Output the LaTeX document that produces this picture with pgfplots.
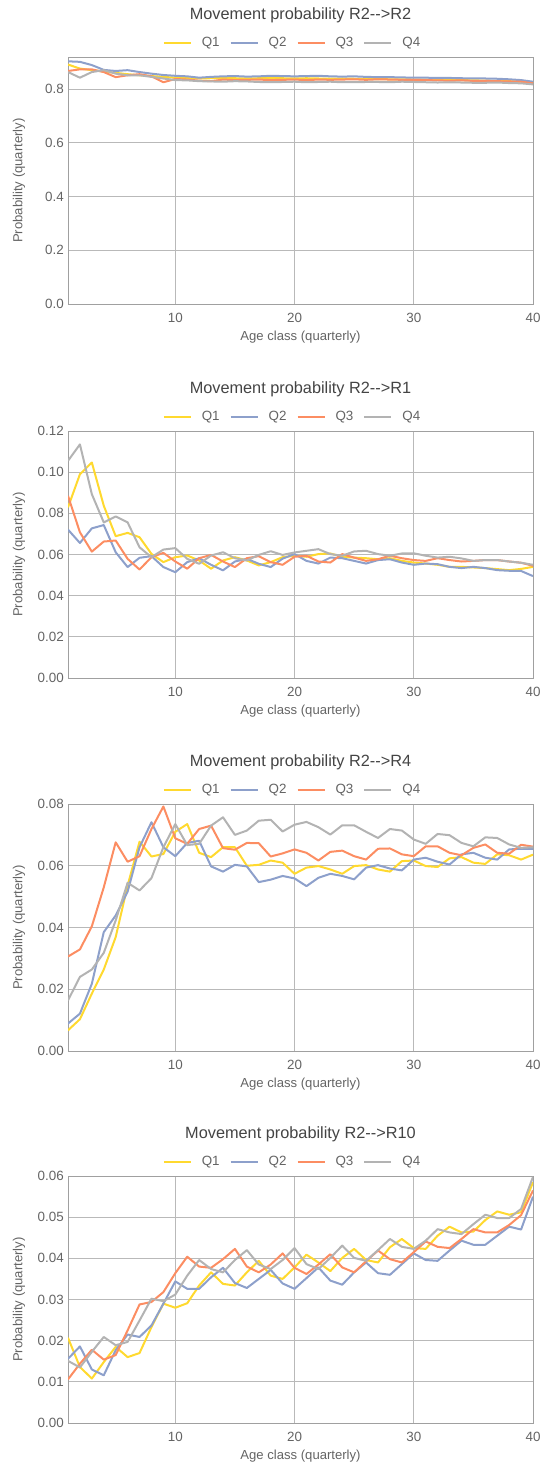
\documentclass[border=0pt]{standalone}
\usepackage{pgfplots}
\pgfplotsset{compat=1.18}
\usepackage{pgfplotstable}
\usepackage{fontspec}
\setmainfont{Liberation Sans}
\definecolor{cQa}{HTML}{FFD92F}
\definecolor{cQb}{HTML}{8DA0CB}
\definecolor{cQc}{HTML}{FC8D62}
\definecolor{cQd}{HTML}{B3B3B3}
\definecolor{gridc}{RGB}{185,185,185}
\definecolor{framec}{RGB}{160,160,160}
\definecolor{tickc}{RGB}{100,100,100}
\definecolor{titlec}{RGB}{68,68,68}

\pgfplotstableread{
x q1 q2 q3 q4
1 0.892 0.904 0.868 0.864
2 0.877 0.902 0.874 0.843
3 0.871 0.890 0.874 0.864
4 0.866 0.872 0.864 0.871
5 0.861 0.868 0.845 0.858
6 0.856 0.871 0.852 0.852
7 0.852 0.864 0.856 0.852
8 0.849 0.858 0.848 0.846
9 0.846 0.853 0.826 0.840
10 0.843 0.850 0.838 0.834
11 0.841 0.848 0.836 0.833
12 0.840 0.843 0.832 0.830
13 0.841 0.846 0.830 0.829
14 0.842 0.848 0.836 0.828
15 0.841 0.849 0.834 0.830
16 0.840 0.847 0.835 0.829
17 0.841 0.848 0.836 0.827
18 0.842 0.850 0.834 0.826
19 0.841 0.849 0.835 0.827
20 0.840 0.848 0.836 0.828
21 0.841 0.849 0.834 0.826
22 0.840 0.850 0.836 0.827
23 0.839 0.848 0.835 0.828
24 0.840 0.847 0.836 0.826
25 0.839 0.848 0.837 0.826
26 0.838 0.846 0.835 0.827
27 0.838 0.845 0.837 0.827
28 0.837 0.845 0.836 0.826
29 0.837 0.844 0.835 0.828
30 0.836 0.843 0.835 0.827
31 0.836 0.843 0.834 0.826
32 0.835 0.842 0.833 0.825
33 0.834 0.842 0.832 0.826
34 0.834 0.841 0.833 0.825
35 0.833 0.840 0.831 0.824
36 0.832 0.840 0.831 0.824
37 0.831 0.839 0.830 0.825
38 0.830 0.837 0.829 0.823
39 0.828 0.834 0.828 0.822
40 0.825 0.828 0.822 0.818
}\tabA

\pgfplotstableread{
x q1 q2 q3 q4
1 0.0829 0.0721 0.0885 0.1055
2 0.0990 0.0656 0.0708 0.1135
3 0.1047 0.0727 0.0614 0.0893
4 0.0837 0.0743 0.0663 0.0756
5 0.0689 0.0611 0.0668 0.0785
6 0.0705 0.0539 0.0579 0.0756
7 0.0684 0.0584 0.0527 0.0635
8 0.0603 0.0592 0.0587 0.0587
9 0.0563 0.0539 0.0608 0.0624
10 0.0587 0.0514 0.0566 0.0631
11 0.0595 0.0563 0.0531 0.0579
12 0.0571 0.0582 0.0582 0.0555
13 0.0531 0.0550 0.0598 0.0595
14 0.0571 0.0523 0.0566 0.0611
15 0.0587 0.0566 0.0539 0.0582
16 0.0571 0.0579 0.0582 0.0571
17 0.0547 0.0555 0.0592 0.0598
18 0.0563 0.0539 0.0563 0.0616
19 0.0587 0.0580 0.0550 0.0598
20 0.0594 0.0602 0.0589 0.0610
21 0.0589 0.0569 0.0594 0.0618
22 0.0602 0.0556 0.0566 0.0626
23 0.0605 0.0585 0.0561 0.0602
24 0.0589 0.0582 0.0602 0.0594
25 0.0585 0.0569 0.0585 0.0615
26 0.0582 0.0556 0.0569 0.0618
27 0.0577 0.0573 0.0577 0.0602
28 0.0582 0.0577 0.0594 0.0594
29 0.0569 0.0561 0.0582 0.0605
30 0.0561 0.0550 0.0573 0.0606
31 0.0556 0.0556 0.0569 0.0594
32 0.0550 0.0553 0.0582 0.0585
33 0.0540 0.0540 0.0573 0.0589
34 0.0540 0.0534 0.0566 0.0581
35 0.0537 0.0540 0.0569 0.0569
36 0.0534 0.0534 0.0573 0.0573
37 0.0529 0.0524 0.0573 0.0573
38 0.0524 0.0521 0.0566 0.0566
39 0.0530 0.0520 0.0560 0.0560
40 0.0540 0.0495 0.0545 0.0550
}\tabB

\pgfplotstableread{
x q1 q2 q3 q4
1 0.0067 0.0089 0.0306 0.0164
2 0.0103 0.0121 0.0329 0.0240
3 0.0186 0.0218 0.0404 0.0264
4 0.0264 0.0385 0.0530 0.0318
5 0.0369 0.0439 0.0676 0.0423
6 0.0536 0.0516 0.0613 0.0545
7 0.0678 0.0660 0.0631 0.0520
8 0.0630 0.0741 0.0719 0.0560
9 0.0638 0.0660 0.0792 0.0660
10 0.0710 0.0631 0.0689 0.0735
11 0.0735 0.0674 0.0671 0.0667
12 0.0642 0.0681 0.0719 0.0671
13 0.0628 0.0598 0.0730 0.0730
14 0.0660 0.0581 0.0657 0.0757
15 0.0660 0.0603 0.0652 0.0700
16 0.0600 0.0598 0.0674 0.0714
17 0.0603 0.0547 0.0673 0.0746
18 0.0617 0.0555 0.0630 0.0749
19 0.0610 0.0567 0.0640 0.0711
20 0.0574 0.0559 0.0653 0.0733
21 0.0594 0.0534 0.0642 0.0742
22 0.0599 0.0561 0.0617 0.0725
23 0.0588 0.0574 0.0645 0.0701
24 0.0574 0.0567 0.0649 0.0731
25 0.0599 0.0556 0.0631 0.0731
26 0.0602 0.0594 0.0620 0.0710
27 0.0588 0.0602 0.0655 0.0690
28 0.0581 0.0591 0.0656 0.0719
29 0.0615 0.0585 0.0637 0.0714
30 0.0617 0.0620 0.0631 0.0685
31 0.0599 0.0626 0.0663 0.0671
32 0.0596 0.0613 0.0663 0.0703
33 0.0624 0.0604 0.0642 0.0699
34 0.0628 0.0637 0.0634 0.0674
35 0.0610 0.0642 0.0658 0.0663
36 0.0606 0.0626 0.0669 0.0692
37 0.0637 0.0620 0.0642 0.0690
38 0.0634 0.0653 0.0639 0.0669
39 0.0620 0.0655 0.0668 0.0658
40 0.0636 0.0655 0.0662 0.0660
}\tabC

\pgfplotstableread{
x q1 q2 q3 q4
1 0.0207 0.0156 0.0106 0.0151
2 0.0136 0.0186 0.0144 0.0135
3 0.0108 0.0130 0.0178 0.0173
4 0.0148 0.0116 0.0154 0.0209
5 0.0185 0.0177 0.0165 0.0189
6 0.0160 0.0215 0.0225 0.0197
7 0.0170 0.0209 0.0288 0.0249
8 0.0233 0.0237 0.0294 0.0302
9 0.0290 0.0290 0.0318 0.0296
10 0.0280 0.0344 0.0364 0.0312
11 0.0291 0.0326 0.0404 0.0358
12 0.0334 0.0326 0.0380 0.0396
13 0.0366 0.0354 0.0377 0.0374
14 0.0338 0.0377 0.0398 0.0366
15 0.0334 0.0340 0.0423 0.0396
16 0.0366 0.0328 0.0380 0.0420
17 0.0394 0.0350 0.0366 0.0385
18 0.0358 0.0372 0.0385 0.0374
19 0.0350 0.0339 0.0412 0.0396
20 0.0378 0.0326 0.0377 0.0425
21 0.0409 0.0352 0.0362 0.0386
22 0.0390 0.0378 0.0385 0.0374
23 0.0369 0.0346 0.0410 0.0401
24 0.0401 0.0336 0.0378 0.0431
25 0.0423 0.0366 0.0366 0.0401
26 0.0396 0.0390 0.0393 0.0394
27 0.0390 0.0364 0.0419 0.0420
28 0.0427 0.0360 0.0398 0.0447
29 0.0447 0.0386 0.0390 0.0428
30 0.0425 0.0412 0.0415 0.0423
31 0.0423 0.0396 0.0441 0.0443
32 0.0455 0.0394 0.0428 0.0471
33 0.0477 0.0419 0.0425 0.0463
34 0.0463 0.0443 0.0447 0.0459
35 0.0465 0.0433 0.0471 0.0483
36 0.0493 0.0433 0.0463 0.0506
37 0.0514 0.0455 0.0463 0.0498
38 0.0506 0.0477 0.0481 0.0498
39 0.0512 0.0470 0.0505 0.0520
40 0.0585 0.0550 0.0565 0.0598
}\tabD

\pgfplotsset{
  panel/.style={
    scale only axis, width=465pt, height=247pt,
    xmin=1, xmax=40, xtick={10,20,30,40},
    anchor=south west,
    scaled y ticks=false, scaled x ticks=false,
    axis line style={draw=framec, line width=1pt},
    grid=major, major grid style={draw=gridc, line width=1pt},
    major tick length=0pt,
    tick label style={font=\fontsize{13.4}{15}\selectfont, text=tickc},
    /pgf/number format/assume math mode=true,
    xticklabel style={anchor=center, yshift=-14pt},
    yticklabel style={anchor=east, inner sep=0pt, xshift=-4pt},
    title style={font=\fontsize{16.3}{19}\selectfont, text=titlec, at={(axis description cs:0.5,1)}, anchor=center, yshift=36pt},
    xlabel={Age class (quarterly)}, ylabel={Probability (quarterly)},
    label style={font=\fontsize{13.1}{15}\selectfont, text=tickc},
    xlabel style={at={(axis description cs:0.5,0)}, anchor=center, yshift=-33pt},
    ylabel style={at={(axis description cs:-0.1054,0.5)}, anchor=center, rotate=0},
    legend columns=-1,
    legend style={at={(axis description cs:0.5,1)}, anchor=center, yshift=14pt, xshift=-9pt,
      draw=none, fill=none, font=\fontsize{13.4}{15}\selectfont, text=tickc,
      nodes={inner sep=0pt},
      /tikz/every even column/.append style={column sep=10pt},
      /tikz/every odd column/.append style={column sep=10pt}},
    legend image code/.code={\draw[#1] (0pt,0pt) -- (27pt,0pt);},
    every axis plot/.append style={line width=2pt, no markers, line join=round},
  }
}

\begin{document}
\begin{tikzpicture}
\path[use as bounding box] (0,0) rectangle (547pt,-1466pt);

\begin{axis}[panel, at={(68pt,-304pt)}, title={Movement probability R2-{}-{}>R2},
  ymin=0, ymax=0.92, ytick={0,0.2,0.4,0.6,0.8},
  yticklabel style={/pgf/number format/fixed, /pgf/number format/fixed zerofill, /pgf/number format/precision=1}]
\addplot[cQa] table[x=x,y=q1]{\tabA}; \addlegendentry{Q1}
\addplot[cQb] table[x=x,y=q2]{\tabA}; \addlegendentry{Q2}
\addplot[cQc] table[x=x,y=q3]{\tabA}; \addlegendentry{Q3}
\addplot[cQd] table[x=x,y=q4]{\tabA}; \addlegendentry{Q4}
\end{axis}

\begin{axis}[panel, at={(68pt,-678pt)}, title={Movement probability R2-{}-{}>R1},
  ymin=0, ymax=0.12, ytick={0,0.02,0.04,0.06,0.08,0.10,0.12},
  yticklabel style={/pgf/number format/fixed, /pgf/number format/fixed zerofill, /pgf/number format/precision=2}]
\addplot[cQa] table[x=x,y=q1]{\tabB}; \addlegendentry{Q1}
\addplot[cQb] table[x=x,y=q2]{\tabB}; \addlegendentry{Q2}
\addplot[cQc] table[x=x,y=q3]{\tabB}; \addlegendentry{Q3}
\addplot[cQd] table[x=x,y=q4]{\tabB}; \addlegendentry{Q4}
\end{axis}

\begin{axis}[panel, at={(68pt,-1051pt)}, title={Movement probability R2-{}-{}>R4},
  ymin=0, ymax=0.08, ytick={0,0.02,0.04,0.06,0.08},
  yticklabel style={/pgf/number format/fixed, /pgf/number format/fixed zerofill, /pgf/number format/precision=2}]
\addplot[cQa] table[x=x,y=q1]{\tabC}; \addlegendentry{Q1}
\addplot[cQb] table[x=x,y=q2]{\tabC}; \addlegendentry{Q2}
\addplot[cQc] table[x=x,y=q3]{\tabC}; \addlegendentry{Q3}
\addplot[cQd] table[x=x,y=q4]{\tabC}; \addlegendentry{Q4}
\end{axis}

\begin{axis}[panel, at={(68pt,-1423pt)}, title={Movement probability R2-{}-{}>R10},
  ymin=0, ymax=0.06, ytick={0,0.01,0.02,0.03,0.04,0.05,0.06},
  yticklabel style={/pgf/number format/fixed, /pgf/number format/fixed zerofill, /pgf/number format/precision=2}]
\addplot[cQa] table[x=x,y=q1]{\tabD}; \addlegendentry{Q1}
\addplot[cQb] table[x=x,y=q2]{\tabD}; \addlegendentry{Q2}
\addplot[cQc] table[x=x,y=q3]{\tabD}; \addlegendentry{Q3}
\addplot[cQd] table[x=x,y=q4]{\tabD}; \addlegendentry{Q4}
\end{axis}
\end{tikzpicture}
\end{document}
